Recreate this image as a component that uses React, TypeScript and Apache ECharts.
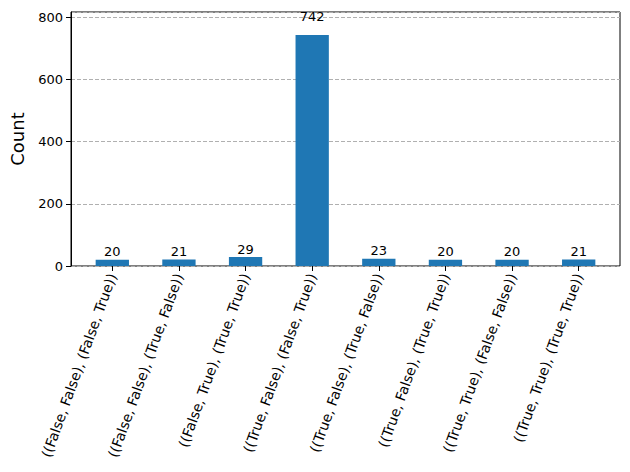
import { useEffect, useRef } from "react";
import * as echarts from "echarts";

const categories = [
  "((False, False), (False, True))",
  "((False, False), (True, False))",
  "((False, True), (True, True))",
  "((True, False), (False, True))",
  "((True, False), (True, False))",
  "((True, False), (True, True))",
  "((True, True), (False, False))",
  "((True, True), (True, True))",
];
const counts = [20, 21, 29, 742, 23, 20, 20, 21];
const yTicks = [0, 200, 400, 600, 800];
const yMax = 816.2;

const FONT = "DejaVu Sans";
const plotHeight = 472 - 12 - 206;

export default function App() {
  const ref = useRef<HTMLDivElement>(null);

  useEffect(() => {
    document.body.style.margin = "0";
    if (!ref.current) return;
    const chart = echarts.init(ref.current, undefined, { renderer: "svg" });
    chart.setOption({
      animation: false,
      textStyle: { fontFamily: FONT },
      grid: [
        // outer frame: carries the y axis, grid lines and border
        { left: 71, right: 10, top: 12, bottom: 206, show: true, borderColor: "#000", borderWidth: 1 },
        // inner band: carries the bars and category ticks
        { left: 79, right: 18, top: 12, bottom: 206 },
      ],
      xAxis: [
        { gridIndex: 0, type: "value", show: false, min: 0, max: 1 },
        {
          gridIndex: 1,
          type: "category",
          data: categories,
          axisLine: { show: false },
          axisTick: { show: true, alignWithLabel: true, length: 5, lineStyle: { color: "#000" } },
          axisLabel: {
            rotate: 70,
            interval: 0,
            margin: 8,
            fontSize: 14,
            color: "#000",
            fontFamily: FONT,
          },
        },
      ],
      yAxis: [
        {
          gridIndex: 0,
          type: "value",
          min: 0,
          max: yMax,
          interval: 200,
          name: "Count",
          nameLocation: "middle",
          nameGap: 45,
          nameTextStyle: { fontSize: 18, color: "#000", fontFamily: FONT },
          axisLine: { show: true, lineStyle: { color: "#000" } },
          axisTick: { show: true, length: 5, lineStyle: { color: "#000" } },
          axisLabel: {
            fontSize: 13,
            color: "#000",
            margin: 8,
            fontFamily: FONT,
            showMaxLabel: false,
            formatter: (v: number) => (yTicks.includes(v) ? String(v) : ""),
          },
          splitLine: { show: true, lineStyle: { color: "#b0b0b0", type: [4, 2], width: 1 } },
        },
        { gridIndex: 1, type: "value", min: 0, max: yMax, show: false, splitLine: { show: false } },
      ],
      series: [
        {
          type: "bar",
          xAxisIndex: 1,
          yAxisIndex: 1,
          // label sits at 1.05 × the bar height, as in the source plot
          data: counts.map((v) => ({
            value: v,
            label: { distance: 1 + (v * 0.05 * plotHeight) / yMax },
          })),
          barWidth: "50%",
          itemStyle: { color: "#1f77b4" },
          label: {
            show: true,
            position: "top",
            fontSize: 13,
            color: "#000",
            fontFamily: FONT,
          },
        },
      ],
    });
    return () => chart.dispose();
  }, []);

  return <div ref={ref} style={{ width: 630, height: 472 }} />;
}
